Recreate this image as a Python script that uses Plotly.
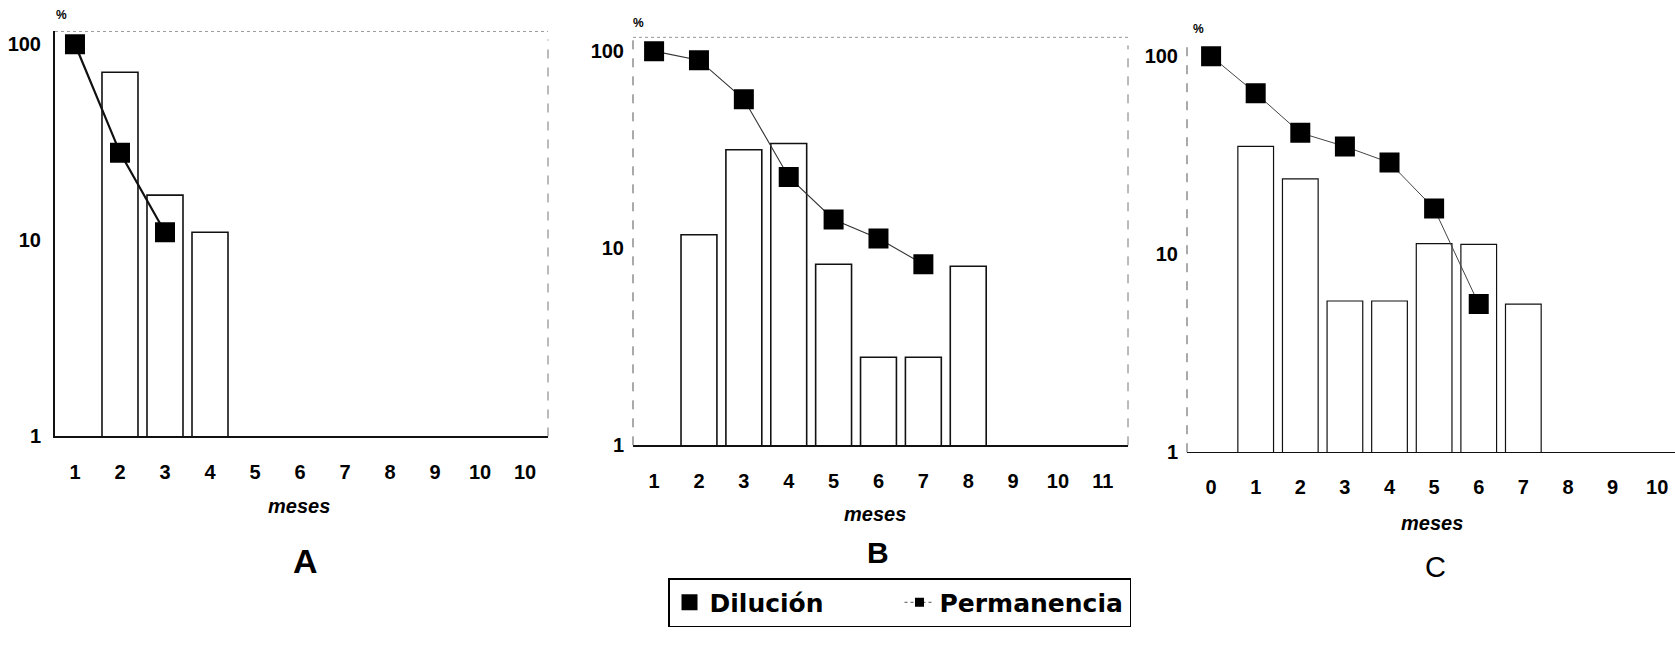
import plotly.graph_objects as go

W, H = 1675, 649

# ---------------- data ----------------
months_A = ["1", "2", "3", "4", "5", "6", "7", "8", "9", "10", "10"]
months_B = ["1", "2", "3", "4", "5", "6", "7", "8", "9", "10", "11"]
months_C = ["0", "1", "2", "3", "4", "5", "6", "7", "8", "9", "10"]

dilucion_A = [None, 72, 17, 11]
dilucion_B = [None, 11.7, 31.6, 34, 8.3, 2.8, 2.8, 8.1]
dilucion_C = [None, 35, 24, 5.8, 5.8, 11.3, 11.2, 5.6]

permanencia_A = [100, 28, 11]
permanencia_B = [100, 90, 57, 23, 14, 11.2, 8.3]
permanencia_C = [100, 65, 41, 35, 29, 17, 5.6]

panel_letters = ["A", "B", "C"]
y_ticks = [1, 10, 100]
y_ticktext = ["1", "10", "100"]


def px(x):
    return x / W


def py(y):
    return 1 - y / H


FONT = "Liberation Sans, Arial, sans-serif"
NARROW = "Liberation Sans Narrow, Arial Narrow, Liberation Sans, sans-serif"
HEAVY = "DejaVu Sans, Liberation Sans, sans-serif"

fig = go.Figure()

panels = [
    dict(months=months_A, dil=dilucion_A, perm=permanencia_A, xd=[55, 548], yd=[444, 32],
         xr=[-0.444, 10.51], yr=[0, 2.065], lw=2.2, linec="#111", leftsolid=True,
         pct=(62, 15), meses=(299, 515), letter=(305, 571),
         lfont=dict(family=NARROW, size=34, color="black", weight="bold")),
    dict(months=months_B, dil=dilucion_B, perm=permanencia_B, xd=[633, 1128], yd=[453, 38],
         xr=[-0.47, 10.56], yr=[0, 2.07], lw=1.1, linec="#333", leftsolid=False,
         pct=(638, 23), meses=(875, 523), letter=(878, 562),
         lfont=dict(family=FONT, size=30, color="black", weight="bold")),
    dict(months=months_C, dil=dilucion_C, perm=permanencia_C, xd=[1187, 1675], yd=[460, 40],
         xr=[-0.54, 10.4], yr=[0, 2.085], lw=1.0, linec="#444", leftsolid=False,
         pct=(1198, 30), meses=(1432, 532), letter=(1435, 577),
         lfont=dict(family=FONT, size=29, color="black", weight="normal")),
]

annotations = []
shapes = []

for i, p in enumerate(panels):
    n = i + 1
    xa = "x" if n == 1 else f"x{n}"
    ya = "y" if n == 1 else f"y{n}"
    xpos = list(range(len(p["months"])))

    fig.add_trace(go.Bar(
        x=xpos[:len(p["dil"])], y=p["dil"], width=0.8,
        marker=dict(color="white", line=dict(color="#111", width=1.6 if n < 3 else 1.2)),
        xaxis=xa, yaxis=ya, showlegend=False, name="Dilución"))
    fig.add_trace(go.Scatter(
        x=xpos[:len(p["perm"])], y=p["perm"], mode="lines+markers",
        line=dict(color=p["linec"], width=p["lw"]),
        marker=dict(symbol="square", size=20, color="black"),
        xaxis=xa, yaxis=ya, showlegend=False, name="Permanencia"))

    xkey = "xaxis" if n == 1 else f"xaxis{n}"
    ykey = "yaxis" if n == 1 else f"yaxis{n}"
    fig.layout[xkey] = dict(
        domain=[px(p["xd"][0]), px(p["xd"][1])], range=p["xr"], anchor=ya,
        tickmode="array", tickvals=xpos, ticktext=p["months"],
        showgrid=False, zeroline=False, showline=True, linecolor="#111",
        linewidth=2 if n < 3 else 1.3, ticks="", ticklabelstandoff=17,
        tickfont=dict(family=FONT, size=20, color="black", weight="bold"))
    fig.layout[ykey] = dict(
        domain=[py(p["yd"][0]), py(p["yd"][1])], type="log", range=p["yr"], anchor=xa,
        tickmode="array", tickvals=y_ticks, ticktext=y_ticktext,
        showgrid=False, zeroline=False, showline=p["leftsolid"], linecolor="#111",
        linewidth=2, ticks="", ticklabelstandoff=8,
        tickfont=dict(family=FONT, size=20, color="black", weight="bold"))

    xdom = "x domain" if n == 1 else f"x{n} domain"
    ydom = "y domain" if n == 1 else f"y{n} domain"
    if not p["leftsolid"]:
        shapes.append(dict(type="line", xref=xdom, yref=ydom, x0=0, x1=0, y0=0, y1=1,
                           line=dict(color="#555", width=1, dash="dash")))
    if n < 3:
        shapes.append(dict(type="line", xref=xdom, yref=ydom, x0=0, x1=1, y0=1, y1=1,
                           line=dict(color="#999", width=1, dash="dot")))
        shapes.append(dict(type="line", xref=xdom, yref=ydom, x0=1, x1=1, y0=0, y1=0.98,
                           line=dict(color="#777", width=1, dash="dash")))

    annotations.append(dict(x=px(p["pct"][0]), y=py(p["pct"][1]), xref="paper", yref="paper",
                            xanchor="center", yanchor="middle", text="%", showarrow=False,
                            font=dict(family=FONT, size=12, color="black", weight="bold")))
    annotations.append(dict(x=px(p["meses"][0]), y=py(p["meses"][1]), xref="paper", yref="paper",
                            xanchor="center", yanchor="middle",
                            text="<i>meses</i>", showarrow=False,
                            font=dict(family=FONT, size=20, color="black", weight="bold")))
    annotations.append(dict(x=px(p["letter"][0]), y=py(p["letter"][1]), xref="paper", yref="paper",
                            xanchor="center", yanchor="middle",
                            text=panel_letters[i], showarrow=False, font=p["lfont"]))

# legend-only entries
fig.add_trace(go.Scatter(x=[None], y=[None], mode="markers", name="Dilución",
                         marker=dict(symbol="square", size=16, color="black")))
fig.add_trace(go.Scatter(x=[None], y=[None], mode="lines+markers", name="Permanencia",
                         line=dict(color="#555", width=1, dash="dot"),
                         marker=dict(symbol="square", size=9, color="black")))

fig.update_layout(
    width=W, height=H, margin=dict(l=0, r=0, t=0, b=0),
    paper_bgcolor="white", plot_bgcolor="white",
    annotations=annotations, shapes=shapes,
    legend=dict(orientation="h", x=px(668), y=py(588), xanchor="left", yanchor="top",
                bordercolor="black", borderwidth=1.5, bgcolor="white",
                font=dict(family=HEAVY, size=25, color="black", weight="bold"),
                entrywidth=185, entrywidthmode="pixels", tracegroupgap=0),
    bargap=0.2,
)

fig.write_html("out.html")
